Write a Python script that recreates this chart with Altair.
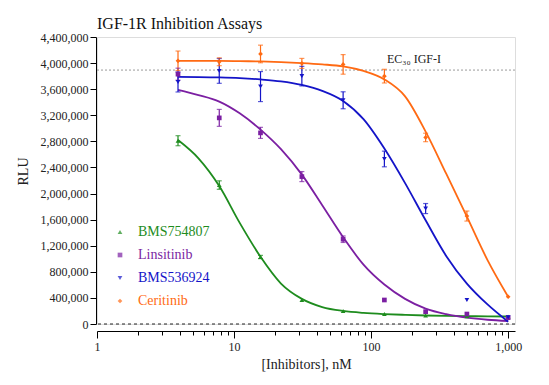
import altair as alt
import pandas as pd

compounds = ["BMS754807", "Linsitinib", "BMS536924", "Ceritinib"]
colors = ["#1e8c1e", "#7b1fa2", "#1414c8", "#ff6a13"]
shapes = ["triangle-up", "square", "triangle-down", "diamond"]

# measured points (nM)
conc = [3.9, 7.8, 15.6, 31.25, 62.5, 125, 250, 500, 1000]
mean_bms754807 = [2810000, 2130000, 1027000, 368000, 199000, 153000, 130000, 118000, 110000]
err_bms754807 = [77000, 65000, 25000, 0, 0, 0, 0, 0, 0]
mean_linsitinib = [3830000, 3160000, 2930000, 2260000, 1300000, 368000, 189000, 153000, 97000]
err_linsitinib = [92000, 130000, 85000, 77000, 50000, 0, 0, 0, 0]
mean_bms536924 = [3710000, 3880000, 3640000, 3800000, 3430000, 2530000, 1770000, 368000, 103000]
err_bms536924 = [153000, 190000, 230000, 150000, 130000, 120000, 77000, 0, 0]
mean_ceritinib = [4035000, 4020000, 4140000, 3995000, 3980000, 3800000, 2860000, 1655000, 418000]
err_ceritinib = [150000, 60000, 135000, 77000, 150000, 105000, 65000, 77000, 0]

# fitted curves
curve_conc = [3.9, 5.5, 7.8, 11, 15.6, 22, 31.25, 44, 62.5, 88, 125, 177, 250, 354, 500, 707, 1000]
curve_bms754807 = [2820000, 2540000, 2115000, 1550000, 1030000, 620000, 385000, 260000, 200000,
                   170000, 152000, 140000, 130000, 124000, 120000, 117000, 115000]
curve_linsitinib = [3590000, 3510000, 3410000, 3230000, 2980000, 2680000, 2290000, 1820000, 1330000,
                    910000, 605000, 385000, 235000, 150000, 97000, 65000, 46000]
curve_bms536924 = [3790000, 3785000, 3780000, 3770000, 3750000, 3720000, 3665000, 3575000, 3420000,
                   3140000, 2690000, 2160000, 1590000, 1040000, 620000, 300000, 35000]
curve_ceritinib = [4035000, 4035000, 4033000, 4030000, 4025000, 4015000, 4000000, 3980000, 3950000,
                   3880000, 3750000, 3490000, 2950000, 2300000, 1645000, 980000, 418000]

ec30_value = 3893000
ec30_label = "EC\u2083\u2080 IGF-I"
ec30_label_x = 130.6

y_ticks = [0, 400000, 800000, 1200000, 1600000, 2000000, 2400000, 2800000, 3200000, 3600000, 4000000, 4400000]
x_major = [1, 10, 100, 1000]
x_minor = [2, 3, 4, 5, 6, 7, 8, 9, 20, 30, 40, 50, 60, 70, 80, 90,
           200, 300, 400, 500, 600, 700, 800, 900]

means = [mean_bms754807, mean_linsitinib, mean_bms536924, mean_ceritinib]
errs = [err_bms754807, err_linsitinib, err_bms536924, err_ceritinib]
curves = [curve_bms754807, curve_linsitinib, curve_bms536924, curve_ceritinib]

rows = []
for name, m, e in zip(compounds, means, errs):
    for c, v, er in zip(conc, m, e):
        rows.append({"compound": name, "conc": c, "rlu": v, "lo": v - er, "hi": v + er, "err": er})
pts = pd.DataFrame(rows)
errdf = pts[pts["err"] > 0]

crow = []
for name, cv in zip(compounds, curves):
    for c, v in zip(curve_conc, cv):
        crow.append({"compound": name, "conc": c, "rlu": v})
cdf = pd.DataFrame(crow)

FONT = "'Liberation Serif', 'Times New Roman', serif"

xscale = alt.Scale(type="log", domain=[1, 1122], nice=False)
yscale = alt.Scale(domain=[0, 4400000], nice=False)
cscale = alt.Scale(domain=compounds, range=colors)
sscale = alt.Scale(domain=compounds, range=shapes)

xaxis_major = alt.Axis(
    title="[Inhibitors], nM", values=x_major, format=",d", orient="bottom",
    tickSize=7, grid=False, offset=7, labelFlush=False, labelOverlap=False, labelBound=False,
    domainColor="black", tickColor="black", labelColor="#222", titleColor="#222",
    labelFont=FONT, titleFont=FONT, labelFontSize=12, titleFontSize=14,
    titleFontWeight="normal", labelPadding=3, titlePadding=5,
)
xaxis_minor = alt.Axis(
    title=None, values=x_minor, labels=False, orient="bottom", domain=False,
    tickSize=4, grid=False, offset=7, tickColor="black",
)
yaxis = alt.Axis(
    title="RLU", values=y_ticks, format=",d", grid=False, offset=1, tickSize=6,
    labelOverlap=False,
    domainColor="black", tickColor="black", labelColor="#222", titleColor="#222",
    labelFont=FONT, titleFont=FONT, labelFontSize=12, titleFontSize=14,
    titleFontWeight="normal", labelPadding=2, titlePadding=10, titleY=134,
)

legend = alt.Legend(
    title=None, orient="none", legendX=16, legendY=188, padding=0,
    labelFont=FONT, labelFontSize=14, symbolSize=22, symbolStrokeWidth=0,
    labelOffset=11, rowPadding=9,
    labelColor={"expr": "scale('color', datum.value)"},
)
C = alt.Color("compound:N", scale=cscale, legend=legend, sort=compounds)

points = alt.Chart(pts).mark_point(filled=True, size=22, opacity=1).encode(
    x=alt.X("conc:Q", scale=xscale, axis=xaxis_major),
    y=alt.Y("rlu:Q", scale=yscale, axis=yaxis),
    color=C,
    shape=alt.Shape("compound:N", scale=sscale, legend=legend, sort=compounds),
)

curves_layer = alt.Chart(cdf).mark_line(strokeWidth=1.8, interpolate="monotone").encode(
    x=alt.X("conc:Q", scale=xscale, axis=xaxis_major),
    y=alt.Y("rlu:Q", scale=yscale, axis=yaxis),
    color=C,
)

rule_err = alt.Chart(errdf).mark_rule(strokeWidth=1.2).encode(
    x=alt.X("conc:Q", scale=xscale, axis=xaxis_major), y=alt.Y("lo:Q", scale=yscale, axis=yaxis),
    y2="hi:Q", color=C
)
cap_lo = alt.Chart(errdf).mark_tick(orient="horizontal", size=5, thickness=1.2).encode(
    x=alt.X("conc:Q", scale=xscale, axis=xaxis_major), y=alt.Y("lo:Q", scale=yscale, axis=yaxis), color=C
)
cap_hi = alt.Chart(errdf).mark_tick(orient="horizontal", size=5, thickness=1.2).encode(
    x=alt.X("conc:Q", scale=xscale, axis=xaxis_major), y=alt.Y("hi:Q", scale=yscale, axis=yaxis), color=C
)

ec_df = pd.DataFrame({"y": [ec30_value], "x": [ec30_label_x], "label": [ec30_label]})
ec_rule = alt.Chart(ec_df).mark_rule(color="#9a9a9a", strokeDash=[2, 2], strokeWidth=1).encode(
    y=alt.Y("y:Q", scale=yscale, axis=yaxis)
)
ec_text = alt.Chart(ec_df).mark_text(align="left", baseline="alphabetic", dy=-7, font=FONT,
                                     fontSize=12, color="#222").encode(
    x=alt.X("x:Q", scale=xscale, axis=xaxis_major), y=alt.Y("y:Q", scale=yscale, axis=yaxis),
    text="label:N"
)

zero_df = pd.DataFrame({"y": [0], "x": [1]})
zero_rule = alt.Chart(zero_df).mark_rule(color="#222", strokeDash=[3, 3], strokeWidth=1).encode(
    y=alt.Y("y:Q", scale=yscale, axis=yaxis)
)
minor_ticks = alt.Chart(zero_df).mark_point(opacity=0).encode(
    x=alt.X("x:Q", scale=xscale, axis=xaxis_minor),
    y=alt.Y("y:Q", scale=yscale, axis=yaxis),
)

main = alt.layer(
    ec_rule, zero_rule, curves_layer, rule_err, cap_lo, cap_hi, points, ec_text
)

chart = alt.layer(main, minor_ticks).resolve_axis(x="independent").properties(
    width=418, height=287,
    title=alt.TitleParams("IGF-1R Inhibition Assays", anchor="start", frame="group",
                          font=FONT, fontSize=16, fontWeight="normal", color="#111",
                          offset=12, dy=13),
    autosize=alt.AutoSizeParams(type="none"),
    padding={"left": 89, "top": 29, "right": 26, "bottom": 53},
).configure_view(stroke=None).configure(font=FONT)

chart.save("out.html", embed_options={"renderer": "svg", "actions": False})
